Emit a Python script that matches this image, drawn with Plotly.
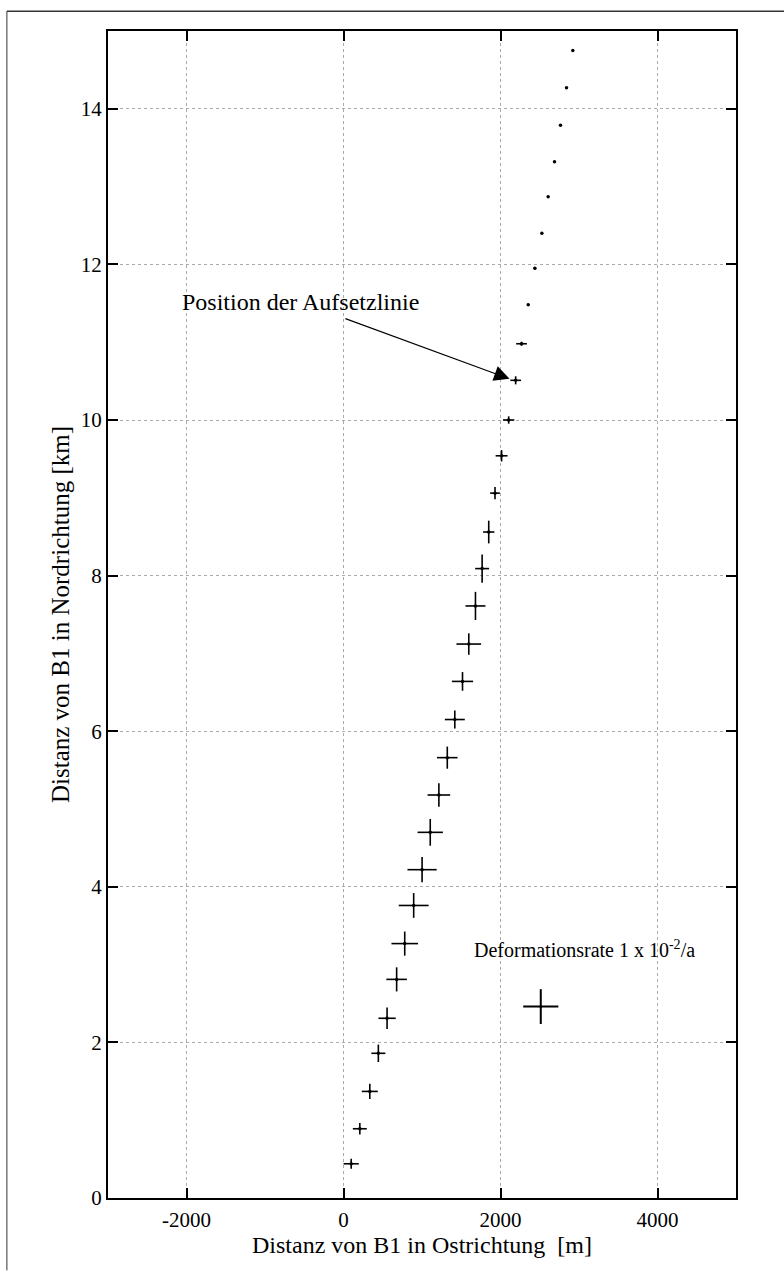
import plotly.graph_objects as go

# Data (x: east distance [m], y: north distance [km])
north_km = [0.44, 0.89, 1.37, 1.86, 2.31, 2.81, 3.27, 3.76, 4.22, 4.70, 5.18, 5.66, 6.15, 6.64,
            7.12, 7.61, 8.09, 8.56, 9.06, 9.54, 10.00, 10.51, 10.98, 11.48, 11.95, 12.40, 12.87,
            13.32, 13.79, 14.27, 14.75]
east_m = [98, 208, 335, 444, 555, 677, 780, 894, 1001, 1105, 1215, 1322, 1418, 1516,
          1596, 1681, 1766, 1850, 1930, 2014, 2104, 2193, 2268, 2353, 2438, 2527, 2607,
          2688, 2764, 2841, 2921]
# half-lengths of the cross arms (deformation rate symbols)
arm_east_m = [97, 89, 102, 89, 110, 131, 169, 190, 186, 161, 144, 131, 127, 135,
              157, 127, 89, 72, 62, 76, 72, 68, 68, 15, 15, 10, 10, 8, 8, 8, 8]
arm_north_km = [0.065, 0.073, 0.099, 0.112, 0.138, 0.155, 0.155, 0.159, 0.163, 0.172, 0.151,
                0.142, 0.116, 0.120, 0.138, 0.181, 0.181, 0.146, 0.080, 0.073, 0.047, 0.052,
                0.026, 0.015, 0.015, 0.010, 0.010, 0.008, 0.008, 0.008, 0.008]

# reference cross: deformation rate 1 x 10^-2 / a
ref_east_m = [2513]
ref_north_km = [2.46]
ref_arm_east_m = [224]
ref_arm_north_km = [0.224]

x_ticks = [-2000, 0, 2000, 4000]
y_ticks = [0, 2, 4, 6, 8, 10, 12, 14]

FONT = "Liberation Serif, Times New Roman, serif"

fig = go.Figure()
fig.add_trace(go.Scatter(
    x=east_m, y=north_km, mode="markers",
    marker=dict(color="black", size=3.5),
    error_x=dict(type="data", array=arm_east_m, symmetric=True, width=0,
                 thickness=1.6, color="black"),
    error_y=dict(type="data", array=arm_north_km, symmetric=True, width=0,
                 thickness=1.6, color="black"),
    showlegend=False, hoverinfo="skip"))
fig.add_trace(go.Scatter(
    x=ref_east_m, y=ref_north_km, mode="markers",
    marker=dict(color="black", size=3),
    error_x=dict(type="data", array=ref_arm_east_m, symmetric=True, width=0,
                 thickness=2, color="black"),
    error_y=dict(type="data", array=ref_arm_north_km, symmetric=True, width=0,
                 thickness=2, color="black"),
    showlegend=False, hoverinfo="skip"))

axis_common = dict(
    showline=True, linecolor="black", linewidth=2, mirror="ticks",
    ticks="inside", ticklen=10, tickwidth=2, tickcolor="black",
    showgrid=True, gridcolor="#ababab", gridwidth=1, griddash="dot",
    zeroline=False,
    tickfont=dict(family=FONT, size=21, color="black"),
)

fig.update_xaxes(range=[-3000, 5000], tickvals=x_ticks, ticktext=[str(v) for v in x_ticks],
                 title=dict(text="Distanz von B1 in Ostrichtung&nbsp;&nbsp;[m]",
                            font=dict(family=FONT, size=24, color="black"), standoff=2),
                 ticklabelstandoff=2,
                 **axis_common)
fig.update_yaxes(range=[0, 15], tickvals=y_ticks, ticktext=[str(v) for v in y_ticks],
                 title=dict(text="Distanz von B1 in Nordrichtung [km]",
                            font=dict(family=FONT, size=25, color="black"), standoff=4),
                 **axis_common)

# annotation text and arrow
fig.add_annotation(x=-550, y=11.52, xref="x", yref="y", text="Position der Aufsetzlinie",
                   showarrow=False, font=dict(family=FONT, size=24, color="black"))
fig.add_annotation(x=2115, y=10.53, ax=5, ay=11.31, xref="x", yref="y", axref="x", ayref="y",
                   text="", showarrow=True, arrowhead=2, arrowsize=2.8, arrowwidth=1.1,
                   arrowcolor="black")
fig.add_annotation(x=3073, y=3.2, xref="x", yref="y",
                   text="Deformationsrate 1 x 10<sup>-2</sup>/a",
                   showarrow=False, font=dict(family=FONT, size=20, color="black"))

# scanned page frame (left and top border)
fig.add_shape(type="line", xref="paper", yref="paper", x0=-0.161, x1=-0.161, y0=-0.062, y1=1.017,
              line=dict(color="#333", width=1))
fig.add_shape(type="line", xref="paper", yref="paper", x0=-0.161, x1=1.08, y0=1.017, y1=1.017,
              line=dict(color="#333", width=1.5))

fig.update_layout(
    width=784, height=1279,
    margin=dict(l=108, r=48, t=31, b=81),
    paper_bgcolor="white", plot_bgcolor="white",
    font=dict(family=FONT, color="black"),
)

fig.write_html("out.html")
